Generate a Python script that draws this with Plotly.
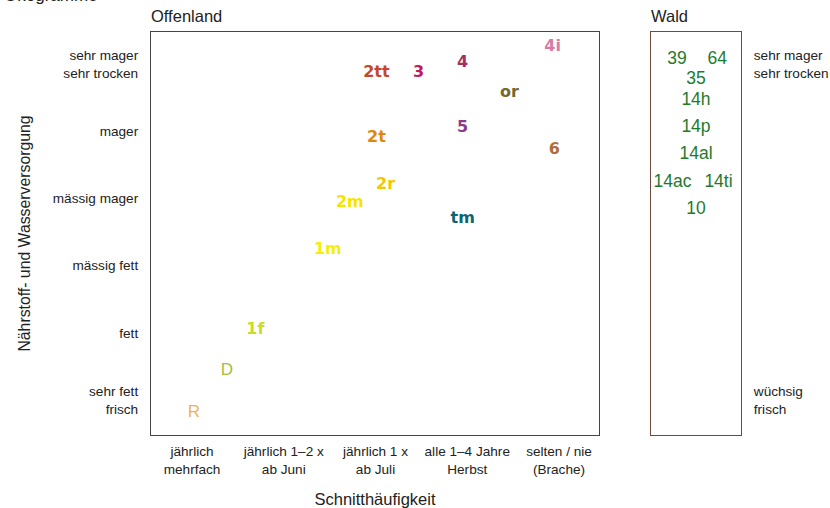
import plotly.graph_objects as go

# ---- data ----
cut_labels = ["jährlich<br>mehrfach", "jährlich 1–2 x<br>ab Juni", "jährlich 1 x<br>ab Juli",
              "alle 1–4 Jahre<br>Herbst", "selten / nie<br>(Brache)"]
cut_vals = [1, 2, 3, 4, 5]
level_labels = ["sehr fett<br>frisch", "fett", "mässig fett", "mässig mager", "mager",
                "sehr mager<br>sehr trocken"]
level_vals = [1, 2, 3, 4, 5, 6]

open_names = ["4i", "4", "2tt", "3", "or", "5", "2t", "6", "2r", "2m", "tm", "1m", "1f", "D", "R"]
open_x = [4.93, 3.95, 3.01, 3.47, 4.46, 3.95, 3.01, 4.95, 3.11, 2.72, 3.95, 2.48, 1.69, 1.38, 1.02]
open_y = [6.25, 6.01, 5.87, 5.87, 5.57, 5.05, 4.90, 4.72, 4.20, 3.93, 3.69, 3.23, 2.04, 1.43, 0.81]
open_colors = ["#d97aa6", "#a8305e", "#c4482c", "#c01a5a", "#76682c", "#8a3c88", "#e0880c",
               "#b06c40", "#f2c800", "#f6e400", "#0b6574", "#f2ee10", "#ccdc24", "#a8bc40", "#f0b060"]
open_bold = [True] * 13 + [False, False]

wald_names = ["39", "64", "35", "14h", "14p", "14al", "14ac", "14ti", "10"]
wald_x = [-0.42, 0.47, 0.0, 0.0, 0.0, 0.0, -0.52, 0.5, 0.0]
wald_y = [6.06, 6.06, 5.76, 5.46, 5.05, 4.65, 4.23, 4.23, 3.83]
wald_labels = ["wüchsig<br>frisch", "sehr mager<br>sehr trocken"]
wald_vals = [1, 6]

FONT = "Liberation Sans, Arial, sans-serif"
BOLDFONT = "DejaVu Sans, Liberation Sans, sans-serif"
W, H = 830, 508
TICK = 13.6

fig = go.Figure()

# Offenland labels (bold)
bx = [x for x, b in zip(open_x, open_bold) if b]
by = [y for y, b in zip(open_y, open_bold) if b]
bt = [f"<b>{t}</b>" for t, b in zip(open_names, open_bold) if b]
bc = [c for c, b in zip(open_colors, open_bold) if b]
fig.add_trace(go.Scatter(x=bx, y=by, mode="text", text=bt,
                         textfont=dict(family=BOLDFONT, size=16, color=bc),
                         xaxis="x", yaxis="y", hoverinfo="skip"))
nx = [x for x, b in zip(open_x, open_bold) if not b]
ny = [y for y, b in zip(open_y, open_bold) if not b]
nt = [t for t, b in zip(open_names, open_bold) if not b]
nc = [c for c, b in zip(open_colors, open_bold) if not b]
fig.add_trace(go.Scatter(x=nx, y=ny, mode="text", text=nt,
                         textfont=dict(family=FONT, size=17, color=nc),
                         xaxis="x", yaxis="y", hoverinfo="skip"))

# Wald labels
fig.add_trace(go.Scatter(x=wald_x, y=wald_y, mode="text", text=wald_names,
                         textfont=dict(family=FONT, size=17.5, color="#1f7a2c"),
                         xaxis="x2", yaxis="y2", hoverinfo="skip"))

ytop = 1 - 32 / H
ybot = 1 - 435 / H
yrange = [0.479, 6.476]

fig.update_layout(
    width=W, height=H,
    margin=dict(l=0, r=0, t=0, b=0),
    paper_bgcolor="white", plot_bgcolor="white",
    showlegend=False,
    font=dict(family=FONT, color="#222222"),
    xaxis=dict(domain=[151 / W, 599 / W], range=[0.553, 5.436],
               tickvals=cut_vals, ticktext=cut_labels, tickfont=dict(size=TICK, color="#222"),
               showgrid=False, zeroline=False, showline=True, mirror=True,
               linecolor="#444", linewidth=1.2, ticks="", ticklabelstandoff=4,
               title=dict(text="Schnitthäufigkeit", font=dict(size=16.5, color="#222"), standoff=17),
               anchor="y", fixedrange=True),
    yaxis=dict(domain=[ybot, ytop], range=yrange,
               tickvals=level_vals, ticktext=level_labels, tickfont=dict(size=TICK, color="#222"),
               showgrid=False, zeroline=False, showline=True, mirror=True,
               linecolor="#444", linewidth=1.2, ticks="", ticklabelstandoff=9,
               title=dict(text="Nährstoff- und Wasserversorgung", font=dict(size=15.8, color="#222"),
                          standoff=18),
               anchor="x", fixedrange=True),
    xaxis2=dict(domain=[651 / W, 741 / W], range=[-1, 1], showticklabels=False,
                showgrid=False, zeroline=False, showline=True, mirror=True,
                linecolor="#6e4a40", linewidth=1.2, ticks="", anchor="y2", fixedrange=True),
    yaxis2=dict(domain=[ybot, ytop], range=yrange, side="right",
                tickvals=wald_vals, ticktext=wald_labels, tickfont=dict(size=TICK, color="#222"),
                showgrid=False, zeroline=False, showline=True, mirror=True,
                linecolor="#6e4a40", linewidth=1.2, ticks="", ticklabelstandoff=9,
                anchor="x2", fixedrange=True),
)

fig.add_annotation(text="Offenland", x=149 / W, y=1 - 16 / H, xref="paper", yref="paper",
                   xanchor="left", yanchor="middle", showarrow=False,
                   font=dict(family=FONT, size=16.5, color="#222"))
fig.add_annotation(text="Wald", x=649 / W, y=1 - 16 / H, xref="paper", yref="paper",
                   xanchor="left", yanchor="middle", showarrow=False,
                   font=dict(family=FONT, size=16.5, color="#222"))
fig.add_annotation(text="Ökogramme", x=2 / W, y=1 + 5 / H, xref="paper", yref="paper",
                   xanchor="left", yanchor="middle", showarrow=False,
                   font=dict(family=FONT, size=17, color="#222"))

fig.write_html("out.html", config={"displayModeBar": False},
               post_script="document.body.style.margin='0';document.body.style.overflow='hidden';")
